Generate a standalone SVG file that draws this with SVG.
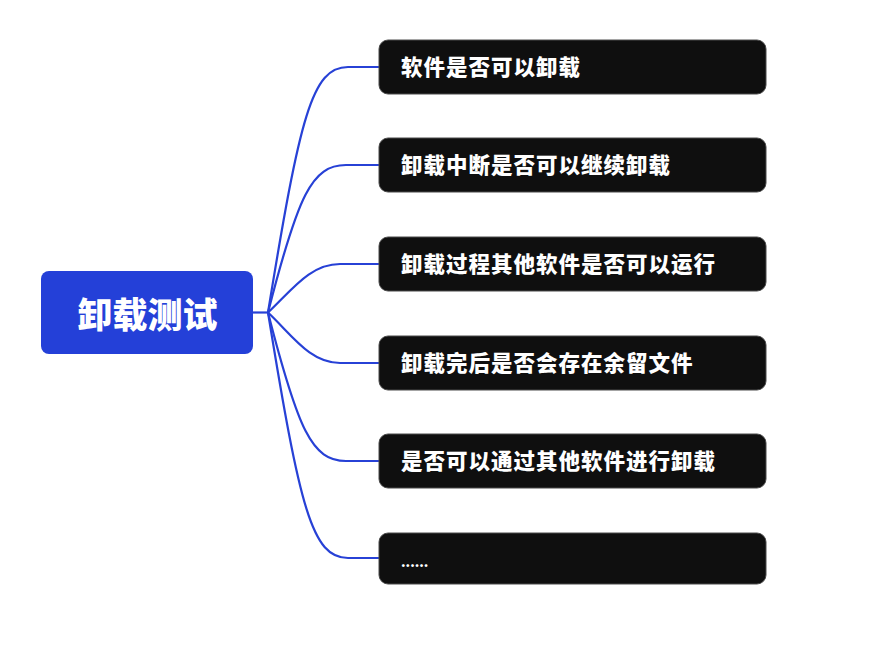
<svg xmlns="http://www.w3.org/2000/svg" width="875" height="658" viewBox="0 0 875 658">
<style>
.box{fill:#0f0f0f;stroke:#4a4a4a;stroke-width:1}
.t{fill:#ffffff;font-family:"Noto Sans CJK SC","Noto Sans",sans-serif;font-weight:900;font-size:21.5px}
.c{fill:none;stroke:#2741d6;stroke-width:2.2}
</style>
<rect width="875" height="658" fill="#ffffff"/>
<g id="connectors">
<path class="c" d="M253,312.5 H268"/>
<path class="c" d="M268,312.5 C300,116 312,67 348,67 H379"/>
<path class="c" d="M268,312.5 C298,195 312,165 346,165 H379"/>
<path class="c" d="M268,312.5 C292,290 310,264 340,264 H379"/>
<path class="c" d="M268,312.5 C292,335 310,363 340,363 H379"/>
<path class="c" d="M268,312.5 C298,430 312,461 346,461 H379"/>
<path class="c" d="M268,312.5 C300,509 312,558 348,558 H379"/>
</g>
<g id="root">
<rect x="41" y="271" width="212" height="83" rx="8" fill="#2440d8"/>
<text x="147.5" y="328" text-anchor="middle" style="fill:#fff;font-family:'Noto Sans CJK SC',sans-serif;font-weight:900;font-size:35px">卸载测试</text>
</g>
<g id="n1"><rect class="box" x="379" y="40" width="387" height="54" rx="9"/><text class="t" x="401" y="75" letter-spacing="1">软件是否可以卸载</text></g>
<g id="n2"><rect class="box" x="379" y="138" width="387" height="54" rx="9"/><text class="t" x="401" y="173" letter-spacing="1">卸载中断是否可以继续卸载</text></g>
<g id="n3"><rect class="box" x="379" y="237" width="387" height="54" rx="9"/><text class="t" x="401" y="272" letter-spacing="1">卸载过程其他软件是否可以运行</text></g>
<g id="n4"><rect class="box" x="379" y="336" width="387" height="54" rx="9"/><text class="t" x="401" y="371" letter-spacing="1">卸载完后是否会存在余留文件</text></g>
<g id="n5"><rect class="box" x="379" y="434" width="387" height="54" rx="9"/><text class="t" x="401" y="469" letter-spacing="1">是否可以通过其他软件进行卸载</text></g>
<g id="n6"><rect class="box" x="379" y="533" width="387" height="51" rx="9"/><text class="t" x="401" y="567" style="font-size:13px">......</text></g>
</svg>
